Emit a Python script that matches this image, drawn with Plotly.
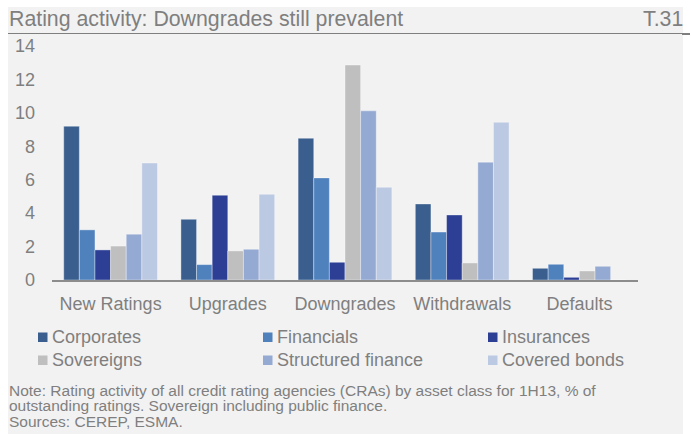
import plotly.graph_objects as go

# Rating activity by asset class, 1H13 (% of outstanding ratings)
categories = ["New Ratings", "Upgrades", "Downgrades", "Withdrawals", "Defaults"]

corporates = [9.2, 3.63, 8.48, 4.55, 0.70]
financials = [3.0, 0.92, 6.11, 2.87, 0.94]
insurances = [1.8, 5.07, 1.06, 3.89, 0.16]
sovereigns = [2.03, 1.74, 12.86, 1.02, 0.54]
structured_finance = [2.74, 1.84, 10.12, 7.05, 0.82]
covered_bonds = [7.0, 5.13, 5.55, 9.44, 0.0]

series_names = ["Corporates", "Financials", "Insurances",
                "Sovereigns", "Structured finance", "Covered bonds"]
series_values = [corporates, financials, insurances,
                 sovereigns, structured_finance, covered_bonds]
series_colors = ["#3A5F8E", "#4F81BD", "#2C3F94",
                 "#BFBFBF", "#95AAD2", "#BCC9E2"]

y_ticks = [0, 2, 4, 6, 8, 10, 12, 14]

TEXT = "#7F7F7F"
FONT = "Liberation Sans, Arial, sans-serif"
W, H = 691, 434
ML, MR, MT, MB = 52, 53, 46, 154
PW, PH = W - ML - MR, H - MT - MB


def px_x(px):
    return (px - ML) / PW


def px_y(py):
    return (H - MB - py) / PH


fig = go.Figure()
for name, vals, col in zip(series_names, series_values, series_colors):
    fig.add_trace(go.Bar(
        x=categories, y=vals, name=name,
        marker=dict(color=col, line=dict(color="rgba(255,255,255,0.45)", width=0.8)),
        showlegend=False,
    ))

shapes = [
    # panel background
    dict(type="rect", xref="paper", yref="paper", layer="below",
         x0=px_x(8), x1=px_x(683), y0=px_y(H + 2), y1=px_y(7),
         fillcolor="#F2F2F2", line=dict(width=0)),
    # title rule
    dict(type="line", xref="paper", yref="paper",
         x0=px_x(8), x1=px_x(682), y0=px_y(33.5), y1=px_y(33.5),
         line=dict(color="#7F7F7F", width=1)),
    dict(type="line", xref="paper", yref="paper",
         x0=px_x(682), x1=px_x(690), y0=px_y(34), y1=px_y(34),
         line=dict(color="#7F7F7F", width=2)),
]

annotations = [
    dict(text="Rating activity: Downgrades still prevalent", xref="paper", yref="paper",
         x=px_x(7), y=px_y(19), xanchor="left", yanchor="middle", showarrow=False,
         font=dict(size=21.3, color=TEXT, family=FONT)),
    dict(text="T.31", xref="paper", yref="paper",
         x=px_x(685), y=px_y(19), xanchor="right", yanchor="middle", showarrow=False,
         font=dict(size=21.3, color=TEXT, family=FONT)),
]

# legend: three columns, two rows
col_x = [38, 263, 488]
row_y = [337, 360]
for i, (name, col) in enumerate(zip(series_names, series_colors)):
    cx = col_x[i % 3]
    cy = row_y[i // 3]
    shapes.append(dict(type="rect", xref="paper", yref="paper",
                       x0=px_x(cx), x1=px_x(cx + 9.5), y0=px_y(cy + 5), y1=px_y(cy - 4.5),
                       fillcolor=col, line=dict(width=0)))
    annotations.append(dict(text=name, xref="paper", yref="paper",
                            x=px_x(cx + 12), y=px_y(cy), xanchor="left", yanchor="middle",
                            showarrow=False, font=dict(size=18, color=TEXT, family=FONT)))

note_lines = [
    "Note: Rating activity of all credit rating agencies (CRAs) by asset class for 1H13, % of",
    "outstanding ratings. Sovereign including public finance.",
    "Sources: CEREP, ESMA.",
]
# one text block; the base size sets the tight leading, the spans set the glyph size
note_text = "<br>".join(
    '<span style="font-size:15.5px">' + line + "</span>" for line in note_lines)
annotations.append(dict(text=note_text, xref="paper", yref="paper", align="left",
                        x=px_x(7), y=px_y(406.5), xanchor="left", yanchor="middle",
                        showarrow=False, font=dict(size=11.8, color=TEXT, family=FONT)))

fig.update_layout(
    width=W, height=H,
    margin=dict(l=ML, r=MR, t=MT, b=MB, pad=0),
    paper_bgcolor="white",
    plot_bgcolor="rgba(0,0,0,0)",
    barmode="group", bargap=0.2, bargroupgap=0,
    font=dict(family=FONT, color=TEXT, size=18),
    shapes=shapes,
    annotations=annotations,
    xaxis=dict(showgrid=False, showline=True, linecolor="#8C8C8C", linewidth=2,
               ticks="", ticklabelstandoff=6, tickfont=dict(size=18, color=TEXT)),
    yaxis=dict(range=[0, 14], tickvals=y_ticks, showgrid=False, zeroline=False,
               showline=False, ticks="", ticklabelstandoff=16,
               tickfont=dict(size=18, color=TEXT)),
)

fig.write_html("out.html")
